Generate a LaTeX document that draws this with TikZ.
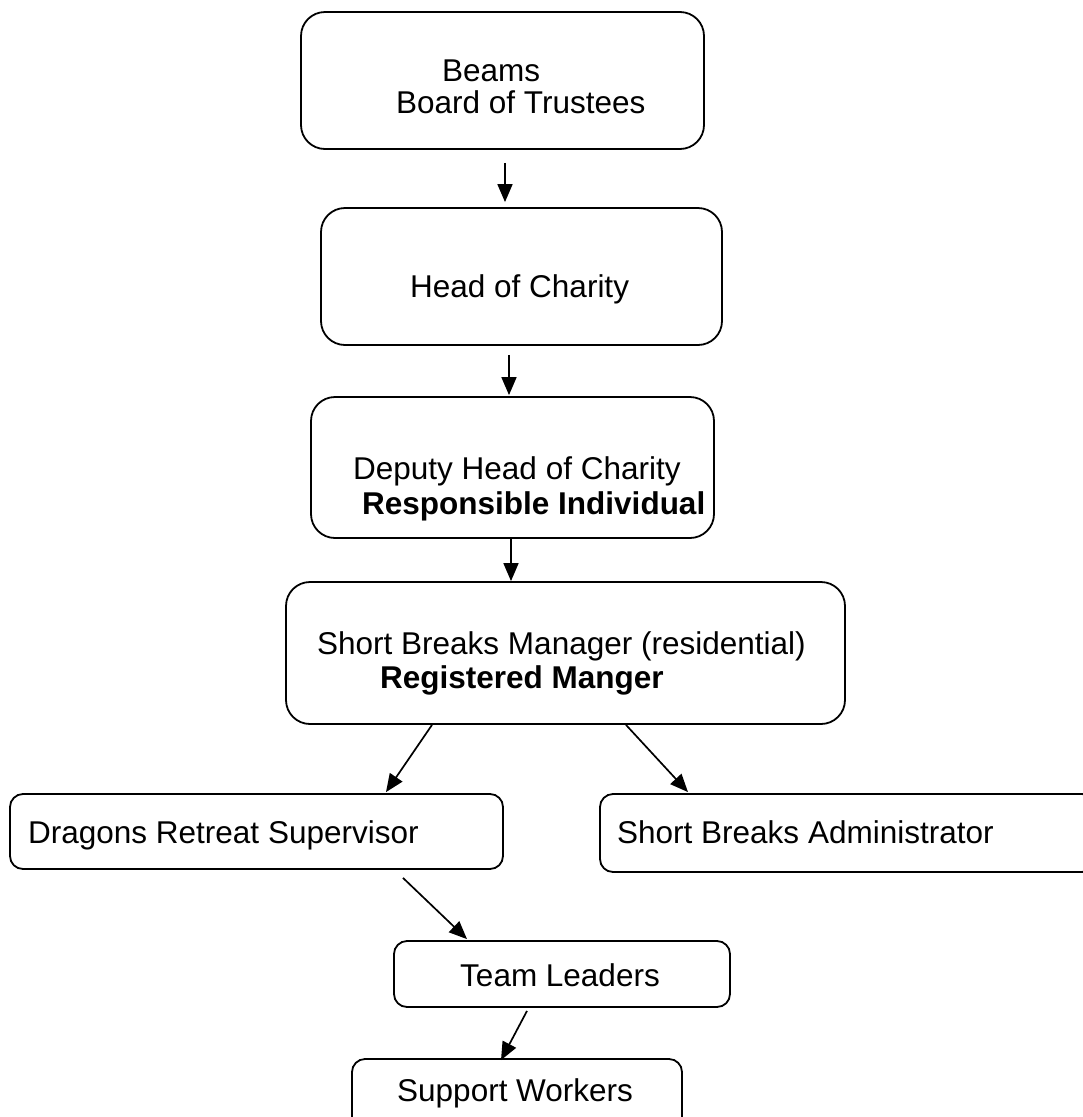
\documentclass[tikz,border=0pt]{standalone}
\usepackage{fontspec}
\setmainfont{Liberation Sans}
\usetikzlibrary{arrows.meta}
\tikzset{
  bigbox/.style={draw, line width=1.8pt, rounded corners=24pt, inner sep=0pt},
  smallbox/.style={draw, line width=1.8pt, rounded corners=13pt, inner sep=0pt},
  lbl/.style={anchor=base west, inner sep=0pt, font=\fontsize{31.5}{36}\selectfont},
  arr/.style={-{Triangle[length=18pt,width=15pt]}, line width=1.7pt}
}
\begin{document}
\begin{tikzpicture}[x=1pt,y=-1pt]
        \useasboundingbox (0,0) rectangle (1083,1117);
        \clip (0,0) rectangle (1083,1117);
        % boxes
        \node[bigbox, minimum width=403, minimum height=137] (beams) at (502.5,80.5) {};
        \node[bigbox, minimum width=401, minimum height=137] (head) at (521.5,276.5) {};
        \node[bigbox, minimum width=403, minimum height=141] (deputy) at (512.5,467.5) {};
        \node[bigbox, minimum width=559, minimum height=142] (mgr) at (565.5,653) {};
        \node[smallbox, minimum width=493, minimum height=75] (drs) at (256.5,831.5) {};
        \node[smallbox, minimum width=495, minimum height=78] (sba) at (847.5,833) {};
        \node[smallbox, minimum width=336, minimum height=66] (tl) at (562,974) {};
        \node[smallbox, minimum width=330, minimum height=81] (sw) at (517,1099.5) {};
        % texts
        \node[lbl] (beams-a) at (442,81) {Beams};
        \node[lbl] (beams-b) at (396,113) {Board of Trustees};
        \node[lbl] (head-a) at (410,297) {Head of Charity};
        \node[lbl] (deputy-a) at (353,479) {Deputy Head of Charity};
        \node[lbl] (deputy-b) at (362,514) {\bfseries Responsible Individual};
        \node[lbl] (mgr-a) at (317,654) {Short Breaks Manager (residential)};
        \node[lbl] (mgr-b) at (380,688) {\bfseries Registered Manger};
        \node[lbl] (drs-a) at (28,843) {Dragons Retreat Supervisor};
        \node[lbl] (sba-a) at (617,843) {Short Breaks Administrator};
        \node[lbl] (tl-a) at (460,986) {Team Leaders};
        \node[lbl] (sw-a) at (397,1101) {Support Workers};
        % arrows
        \draw[arr] ([xshift=2.5pt,yshift=-13pt]beams.south) -- ([xshift=-16.5pt,yshift=5pt]head.north);
        \draw[arr] ([xshift=-12.5pt,yshift=-9pt]head.south) -- ([xshift=-3.5pt,yshift=1pt]deputy.north);
        \draw[arr] ([xshift=-1.5pt]deputy.south) -- ([xshift=-54.5pt]mgr.north);
        \draw[arr] ([xshift=-133.5pt]mgr.south) -- ([xshift=129.5pt,yshift=1pt]drs.north);
        \draw[arr] ([xshift=60.5pt]mgr.south) -- ([xshift=-159.5pt,yshift=1pt]sba.north);
        \draw[arr] ([xshift=146.5pt,yshift=-8pt]drs.south) -- ([xshift=-95pt,yshift=1pt]tl.north);
        \draw[arr] ([xshift=-35pt,yshift=-3pt]tl.south) -- ([xshift=-16pt,yshift=-2pt]sw.north);
    \end{tikzpicture}
\end{document}
